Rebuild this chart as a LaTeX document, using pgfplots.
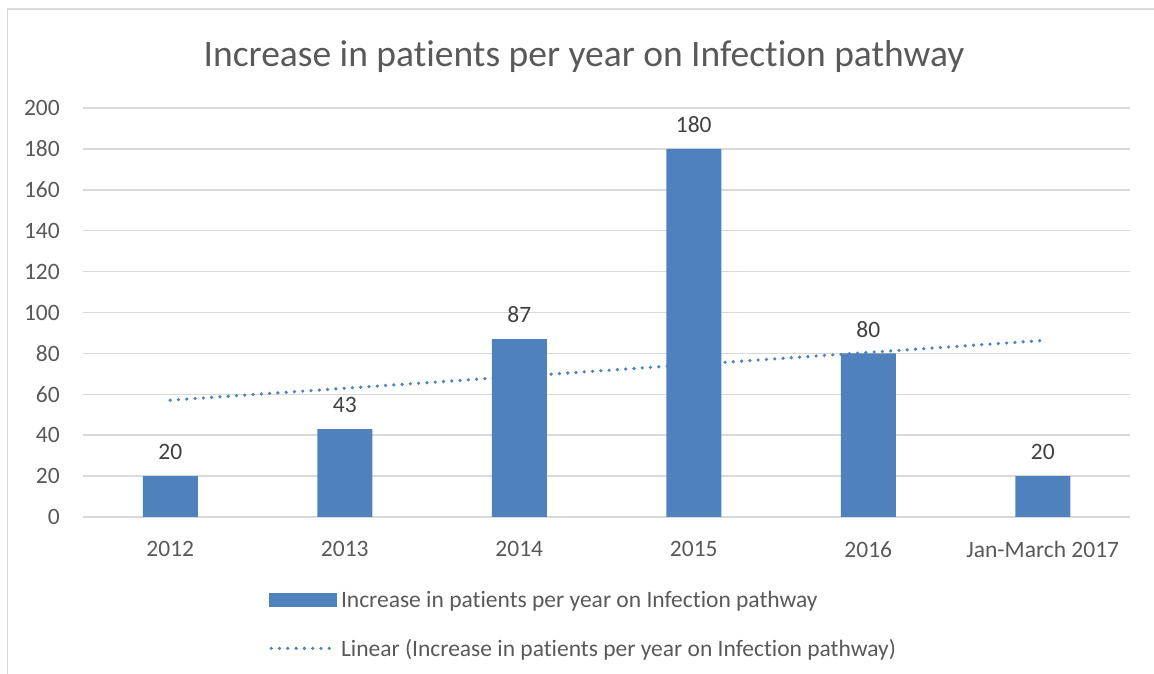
\documentclass[border=0pt]{standalone}
\usepackage{fontspec}
\setmainfont{Carlito}[Ligatures=NoCommon]
\usepackage{pgfplots}
\pgfplotsset{compat=1.18}
\definecolor{barblue}{HTML}{4F81BD}
\definecolor{txt}{HTML}{595959}
\definecolor{lbl}{HTML}{404040}
\definecolor{gridc}{HTML}{D9D9D9}
\begin{document}
\begin{tikzpicture}[x=1pt,y=1pt]
\useasboundingbox (0,0) rectangle (1154,674);
\draw[gridc, line width=1.5pt] (7.5,-20) -- (7.5,665) -- (1180,665);
\node[txt, font=\fontsize{37.5}{44}\selectfont] at (584,617) {Increase in patients per year on Infection pathway};
\begin{axis}[
  at={(83pt,157pt)}, anchor=south west,
  scale only axis, width=1047pt, height=409pt,
  xmin=-0.5, xmax=5.5, ymin=0, ymax=200,
  ytick={0,20,...,200},
  xtick={0,...,5},
  xticklabels={2012,2013,2014,2015,2016,Jan-March 2017},
  axis line style={draw=none},
  major tick length=0pt,
  ymajorgrids, grid style={gridc, line width=1.5pt},
  /pgf/number format/assume math mode=true,
  ticklabel style={font=\fontsize{23.5}{28}\selectfont, text=txt},
  yticklabel style={inner sep=0pt, xshift=-23pt},
  xticklabel style={inner sep=0pt, yshift=-24pt},
  legend style={at={(0,0)}, anchor=north west, xshift=183pt, yshift=-70pt,
    draw=none, fill=none, font=\fontsize{23.5}{28}\selectfont, text=txt,
    row sep=26pt, column sep=0pt},
  legend cell align=left,
]
\addplot[ybar, bar width=55pt, fill=barblue, draw=none,
  nodes near coords,
  nodes near coords style={font=\fontsize{23.5}{28}\selectfont, text=lbl, inner sep=0pt, anchor=south, yshift=16pt},
  legend image code/.code={\fill[barblue] (0pt,-7pt) rectangle (68pt,7pt);}]
  coordinates {(0,20) (1,43) (2,87) (3,180) (4,80) (5,20)};
\addlegendentry{Increase in patients per year on Infection pathway}
\addplot[sharp plot, barblue, line width=3.6pt, dash pattern=on 0pt off 8.3pt, line cap=round,
  legend image code/.code={\draw[barblue, line width=3.6pt, dash pattern=on 0pt off 8.3pt, line cap=round] (2pt,0pt) -- (68pt,0pt);}]
  coordinates {(0,57.1) (5,86.3)};
\addlegendentry{Linear (Increase in patients per year on Infection pathway)}
\end{axis}
\end{tikzpicture}
\end{document}
